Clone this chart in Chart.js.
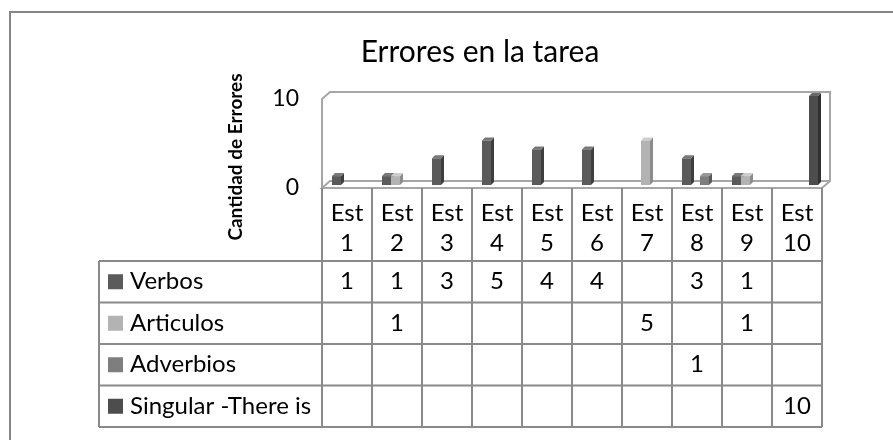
<!DOCTYPE html>
<html>
<head>
<meta charset="utf-8">
<script src="https://cdn.jsdelivr.net/npm/chart.js@4.4.0/dist/chart.umd.min.js"></script>
<style>
  html, body { margin: 0; padding: 0; background: #fff; }
  canvas { display: block; }
</style>
</head>
<body>
<canvas id="chart" width="893" height="440"></canvas>
<script>
const categories = ["Est 1", "Est 2", "Est 3", "Est 4", "Est 5", "Est 6", "Est 7", "Est 8", "Est 9", "Est 10"];
const seriesNames = ["Verbos", "Articulos", "Adverbios", "Singular -There is"];
const verbos    = [1, 1, 3, 5, 4, 4, null, 3, 1, null];
const articulos = [null, 1, null, null, null, null, 5, null, 1, null];
const adverbios = [null, null, null, null, null, null, null, 1, null, null];
const singular  = [null, null, null, null, null, null, null, null, null, 10];
const yTicks = [0, 10];

const frontColors = ["#5b5b5b", "#b3b3b3", "#7e7e7e", "#4d4d4d"];
const sideColors  = ["#3e3e3e", "#8c8c8c", "#5a5a5a", "#303030"];
const topColors   = ["#787878", "#cdcdcd", "#999999", "#696969"];

const FONT = "Lato, 'Open Sans', sans-serif";
const wall = { dx: 8, dy: -7 };
const depth = 3;

const frame = {
  id: "frame",
  beforeDraw(chart) {
    const ctx = chart.ctx;
    ctx.save();
    ctx.strokeStyle = "#868686";
    ctx.lineWidth = 2;
    ctx.strokeRect(10, 12, 1000, 1000);
    // y axis title
    ctx.translate(236, 157);
    ctx.rotate(-Math.PI / 2);
    ctx.fillStyle = "#000";
    ctx.font = "bold 19px " + FONT;
    ctx.textAlign = "center";
    ctx.textBaseline = "middle";
    ctx.fillText("Cantidad de Errores", 0, 0);
    ctx.restore();
  }
};

const threeD = {
  id: "threeD",
  beforeDatasetsDraw(chart) {
    const ctx = chart.ctx;
    const a = chart.chartArea;
    ctx.save();
    ctx.strokeStyle = "#a6a6a6";
    ctx.lineWidth = 2;
    ctx.beginPath();
    ctx.moveTo(a.left, a.bottom);
    ctx.lineTo(a.left, a.top);
    ctx.lineTo(a.left + wall.dx, a.top + wall.dy);
    ctx.lineTo(a.right + wall.dx, a.top + wall.dy);
    ctx.lineTo(a.right + wall.dx, a.bottom + wall.dy);
    ctx.lineTo(a.right, a.bottom);
    ctx.lineTo(a.left, a.bottom);
    ctx.lineTo(a.left + wall.dx, a.bottom + wall.dy);
    ctx.lineTo(a.right + wall.dx, a.bottom + wall.dy);
    ctx.stroke();
    ctx.restore();

    ctx.save();
    ctx.translate(depth, -depth);
    chart.data.datasets.forEach((ds, i) => {
      chart.getDatasetMeta(i).data.forEach((bar, j) => {
        if (ds.data[j] == null) return;
        const { x, y, base, width } = bar.getProps(["x", "y", "base", "width"], true);
        const l = x - width / 2, r = x + width / 2;
        ctx.fillStyle = sideColors[i];
        ctx.beginPath();
        ctx.moveTo(r, y);
        ctx.lineTo(r + depth, y - depth);
        ctx.lineTo(r + depth, base - depth);
        ctx.lineTo(r, base);
        ctx.closePath();
        ctx.fill();
        ctx.fillStyle = topColors[i];
        ctx.beginPath();
        ctx.moveTo(l, y);
        ctx.lineTo(l + depth, y - depth);
        ctx.lineTo(r + depth, y - depth);
        ctx.lineTo(r, y);
        ctx.closePath();
        ctx.fill();
      });
    });
  },
  afterDatasetsDraw(chart) {
    chart.ctx.restore();
  }
};

const dataTable = {
  id: "dataTable",
  afterDraw(chart) {
    const ctx = chart.ctx;
    const xs = chart.scales.x;
    const n = categories.length;
    const step = xs.getPixelForValue(1) - xs.getPixelForValue(0);
    const colLeft = xs.getPixelForValue(0) - step / 2;
    const colRight = xs.getPixelForValue(n - 1) + step / 2;
    const top = chart.chartArea.bottom;
    const headH = 73, rowH = 41.5, labelLeft = 99;
    const rowsTop = top + headH;
    const bottom = rowsTop + rowH * seriesNames.length;
    const series = [verbos, articulos, adverbios, singular];

    ctx.save();
    ctx.strokeStyle = "#8a8a8a";
    ctx.lineWidth = 2;
    ctx.beginPath();
    for (let i = 0; i <= n; i++) {
      const x = colLeft + step * i;
      ctx.moveTo(x, top);
      ctx.lineTo(x, bottom);
    }
    ctx.moveTo(labelLeft, rowsTop);
    ctx.lineTo(labelLeft, bottom);
    for (let r = 0; r <= seriesNames.length; r++) {
      const y = rowsTop + rowH * r;
      ctx.moveTo(labelLeft, y);
      ctx.lineTo(colRight, y);
    }
    ctx.stroke();

    ctx.fillStyle = "#000";
    ctx.font = "24px " + FONT;
    ctx.textAlign = "center";
    ctx.textBaseline = "middle";
    categories.forEach((c, i) => {
      const x = xs.getPixelForValue(i);
      const parts = c.split(" ");
      ctx.fillText(parts[0], x, top + 25);
      ctx.fillText(parts[1], x, top + 55);
    });

    seriesNames.forEach((name, r) => {
      const cy = rowsTop + rowH * r + rowH / 2;
      ctx.fillStyle = frontColors[r];
      ctx.fillRect(108, cy - 7.5, 15, 15);
      ctx.fillStyle = "#000";
      ctx.textAlign = "left";
      ctx.fillText(name, 130, cy);
      ctx.textAlign = "center";
      series[r].forEach((v, i) => {
        if (v != null) ctx.fillText(String(v), xs.getPixelForValue(i), cy);
      });
    });
    ctx.restore();
  }
};

Chart.defaults.font.family = FONT;
Chart.defaults.color = "#000";

const datasets = [verbos, articulos, adverbios, singular].map((d, i) => ({
  label: seriesNames[i],
  data: d,
  backgroundColor: frontColors[i],
  borderWidth: 0,
  clip: false,
  categoryPercentage: 0.72,
  barPercentage: 1
}));

new Chart(document.getElementById("chart"), {
  type: "bar",
  data: { labels: categories, datasets: datasets },
  options: {
    responsive: false,
    devicePixelRatio: 1,
    animation: false,
    layout: { padding: { top: 0, left: 138, right: 71, bottom: 252 } },
    plugins: {
      legend: { display: false },
      tooltip: { enabled: false },
      title: {
        display: true,
        text: "Errores en la tarea",
        color: "#000",
        font: { size: 30, weight: "normal" },
        padding: { top: 34, bottom: 29 }
      }
    },
    scales: {
      x: { display: false },
      y: {
        min: 0,
        max: 10,
        afterFit(scale) { scale.width = 184; },
        afterBuildTicks(scale) { scale.ticks = yTicks.map(v => ({ value: v })); },
        grid: { display: false, drawTicks: false },
        border: { display: false },
        ticks: { padding: 23, font: { size: 23 }, color: "#000" }
      }
    }
  },
  plugins: [frame, threeD, dataTable]
});
</script>
</body>
</html>
